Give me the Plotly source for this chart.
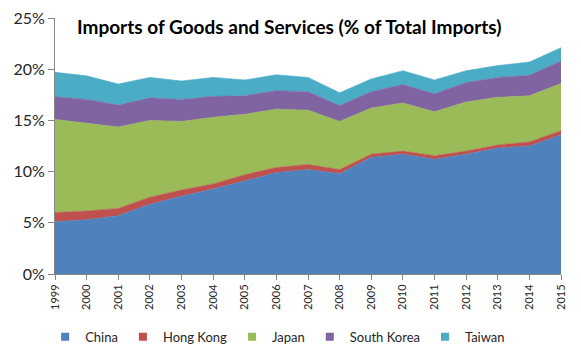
import plotly.graph_objects as go

years = list(range(1999, 2016))
china = [5.1, 5.3, 5.7, 6.8, 7.6, 8.3, 9.1, 9.9, 10.2, 9.8, 11.4, 11.7, 11.2, 11.7, 12.3, 12.5, 13.6]
hong_kong = [0.9, 0.85, 0.7, 0.7, 0.6, 0.5, 0.6, 0.5, 0.5, 0.4, 0.3, 0.3, 0.35, 0.3, 0.3, 0.4, 0.4]
japan = [9.1, 8.55, 7.95, 7.5, 6.7, 6.5, 5.9, 5.7, 5.3, 4.7, 4.5, 4.7, 4.3, 4.8, 4.65, 4.5, 4.6]
south_korea = [2.2, 2.35, 2.15, 2.2, 2.15, 2.05, 1.8, 1.8, 1.8, 1.55, 1.6, 1.8, 1.75, 1.9, 1.95, 2.0, 2.2]
taiwan = [2.4, 2.3, 2.05, 2.0, 1.8, 1.85, 1.55, 1.55, 1.4, 1.25, 1.25, 1.35, 1.35, 1.15, 1.15, 1.3, 1.3]

series = [
    ("China", china, "#4F81BD"),
    ("Hong Kong", hong_kong, "#C0504D"),
    ("Japan", japan, "#9BBB59"),
    ("South Korea", south_korea, "#8064A2"),
    ("Taiwan", taiwan, "#4BACC6"),
]

fig = go.Figure()
for name, vals, col in series:
    fig.add_trace(go.Scatter(
        x=years, y=vals, name=name, mode="lines", stackgroup="one",
        line=dict(width=0.6, color=col), fillcolor=col, showlegend=False,
    ))
# legend entries with square swatches
for name, vals, col in series:
    fig.add_trace(go.Scatter(
        x=[None], y=[None], name=name, mode="markers",
        marker=dict(symbol="square", size=8, color=col), showlegend=True,
    ))

# page body has an 8px margin, so the figure is sized to fit the 581x360 window
fig.update_layout(
    width=573, height=352,
    margin=dict(l=47, r=20, t=10, b=86, autoexpand=False),
    paper_bgcolor="white", plot_bgcolor="white",
    font=dict(family="Lato, Open Sans, sans-serif", color="#262626"),
    showlegend=True,
    legend=dict(orientation="h", x=0.44, xanchor="center", y=-0.245, yanchor="middle",
                font=dict(size=13, color="#262626"), traceorder="normal",
                itemwidth=30, tracegroupgap=0),
    annotations=[dict(text="<b>Imports of Goods and Services (% of Total Imports)</b>",
                      xref="paper", yref="paper", x=0.463, y=0.967, xanchor="center", yanchor="middle",
                      showarrow=False, font=dict(size=19, color="black", family="Lato, sans-serif"))],
)
fig.update_xaxes(range=[1999, 2015], tickvals=years, ticktext=[str(y) for y in years],
                 tickangle=-90, tickfont=dict(size=11, color="#262626"),
                 showline=True, linecolor="#868686", linewidth=1,
                 ticks="outside", ticklen=5, tickcolor="#868686",
                 showgrid=False, zeroline=False, automargin=False,
                 ticklabeloverflow="allow")
fig.update_yaxes(range=[0, 25], tickvals=[0, 5, 10, 15, 20, 25],
                 ticktext=["0%", "5%", "10%", "15%", "20%", "25%"],
                 tickfont=dict(size=16, color="#262626"),
                 showline=True, linecolor="#868686", linewidth=1,
                 ticks="outside", ticklen=6, tickcolor="#868686",
                 showgrid=False, zeroline=False, automargin=False,
                 ticklabeloverflow="allow")

fig.write_html("out.html")
